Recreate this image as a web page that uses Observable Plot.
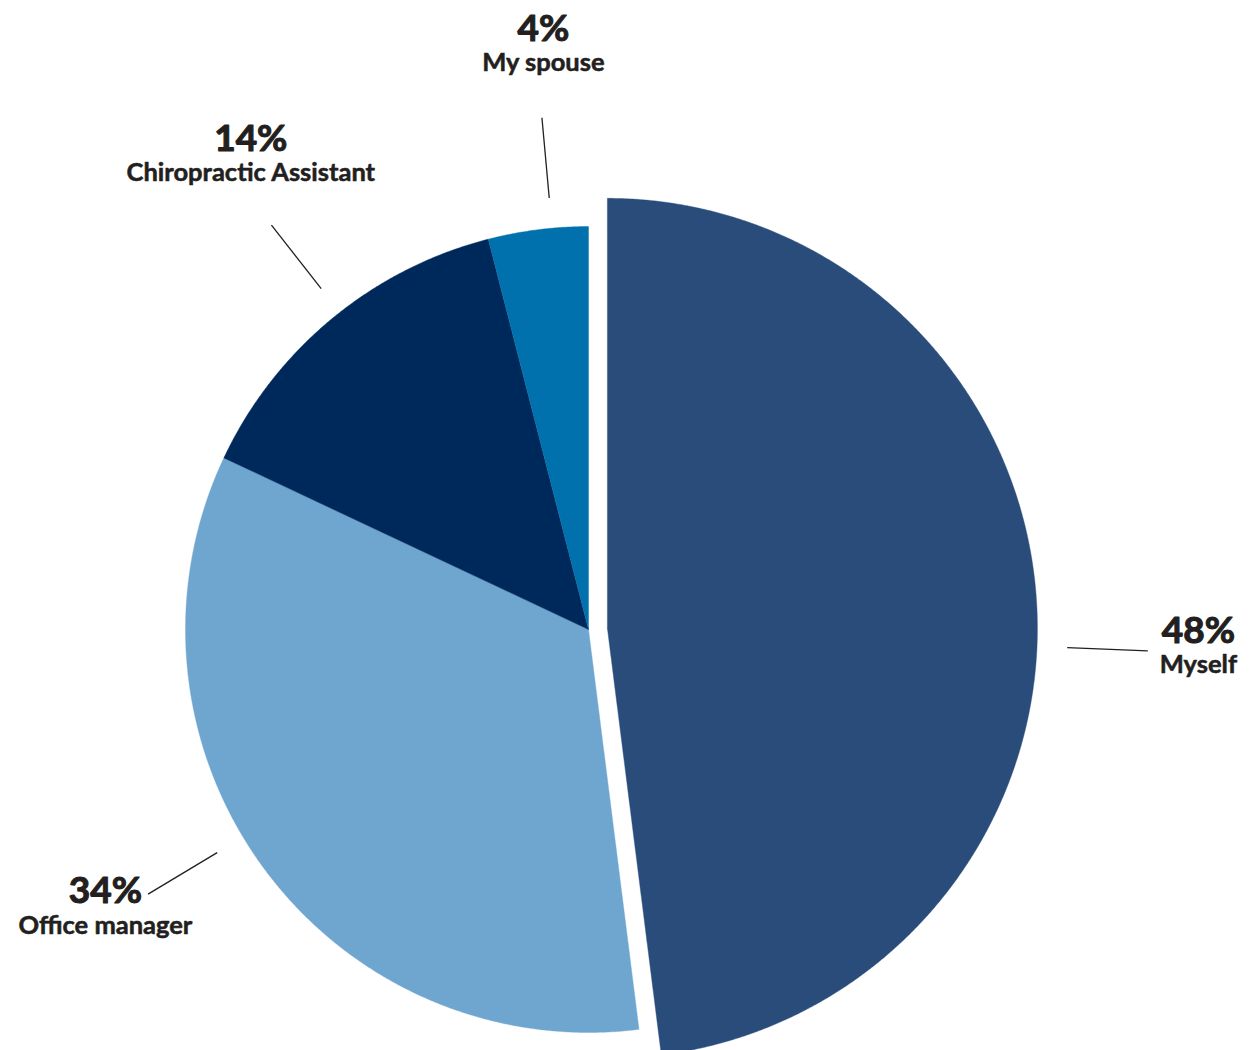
<!DOCTYPE html>
<html><head><meta charset="utf-8">
<script src="https://cdn.jsdelivr.net/npm/d3@7"></script>
<script src="https://cdn.jsdelivr.net/npm/@observablehq/plot@0.6"></script>
<style>body{margin:0;background:#fff}#chart{width:1251px;height:1050px}</style>
</head><body><div id="chart"></div>
<script>
// ---- data ----
const categories = ["Myself", "Office manager", "Chiropractic Assistant", "My spouse"];
const percents = [48, 34, 14, 4];
const colors = ["#294c7a", "#6fa6cf", "#00295b", "#0071ad"];
const exploded = ["Myself"];
// ---- layout (not data) ----
const leaderAngleShift = [6, 5, 1.5, 2];       // degrees
const textAngleShift = [5.2, 6.3, 4.3, 2.8];   // degrees
const textRadiusExtra = [0.40, 0.38, 0.45, 0.46];
const W = 1251, H = 1050, cx = 588, cy = 629, R = 403;
const explodeOffset = 0.047, explodeScale = 1.067;
const FONT = "Lato, 'Open Sans', sans-serif";
const INK = "#231f20";

const rows = categories.map((c, i) => ({category: c, value: percents[i]}));
const arcs = d3.pie().sort(null).value(d => d.value).startAngle(0).endAngle(2 * Math.PI)(rows);

const polys = [], leaders = [], labels = [];
arcs.forEach((a, i) => {
  const mid = (a.startAngle + a.endAngle) / 2;
  const ex = exploded.includes(a.data.category);
  const ox = ex ? explodeOffset * Math.sin(mid) : 0;
  const oy = ex ? explodeOffset * Math.cos(mid) : 0;
  const r = ex ? explodeScale : 1;
  const pts = [[ox, oy]];
  const n = Math.max(4, Math.ceil((a.endAngle - a.startAngle) / (Math.PI / 720)));
  for (let k = 0; k <= n; k++) {
    const t = a.startAngle + (a.endAngle - a.startAngle) * k / n;
    pts.push([ox + r * Math.sin(t), oy + r * Math.cos(t)]);
  }
  pts.push([ox, oy]);
  pts.forEach(([x, y]) => polys.push({category: a.data.category, x, y}));
  const la = mid + leaderAngleShift[i] * Math.PI / 180;
  leaders.push({
    x1: ox + (r + 0.075) * Math.sin(la), y1: oy + (r + 0.075) * Math.cos(la),
    x2: ox + (r + 0.275) * Math.sin(la), y2: oy + (r + 0.275) * Math.cos(la)
  });
  const ta = mid + textAngleShift[i] * Math.PI / 180;
  const tr = r + textRadiusExtra[i];
  labels.push({
    x: ox + tr * Math.sin(ta), y: oy + tr * Math.cos(ta),
    pct: a.data.value + "%", name: a.data.category
  });
});

const chart = Plot.plot({
  width: W, height: H,
  margin: 0,
  x: {domain: [-cx / R, (W - cx) / R], range: [0, W], axis: null},
  y: {domain: [-(H - cy) / R, cy / R], range: [H, 0], axis: null},
  color: {domain: categories, range: colors},
  style: {background: "#fff"},
  marks: [
    Plot.line(polys, {x: "x", y: "y", z: "category", fill: "category", stroke: "category", strokeWidth: 0.4, curve: "linear"}),
    Plot.link(leaders, {x1: "x1", y1: "y1", x2: "x2", y2: "y2", stroke: INK, strokeWidth: 1.3}),
    Plot.text(labels, {x: "x", y: "y", text: "pct", dy: -2, lineAnchor: "bottom", textAnchor: "middle",
      fontSize: 37, fontWeight: "bold", fontFamily: FONT, fill: INK, stroke: INK, strokeWidth: 1.1}),
    Plot.text(labels, {x: "x", y: "y", text: "name", dy: 28.5, lineAnchor: "bottom", textAnchor: "middle",
      fontSize: 25.5, fontWeight: "bold", fontFamily: FONT, fill: INK, stroke: INK, strokeWidth: 0.55})
  ]
});
document.getElementById("chart").appendChild(chart);
</script>
</body></html>
